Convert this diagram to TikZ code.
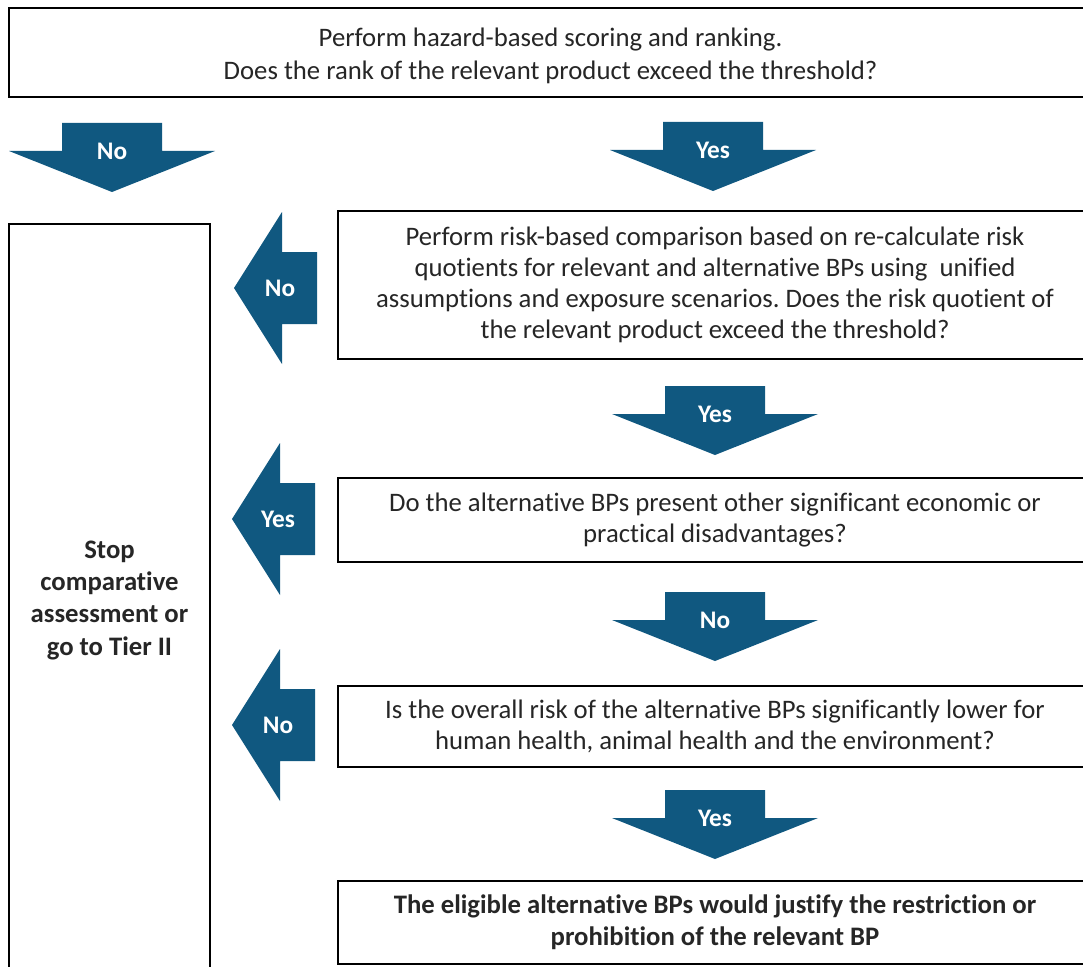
\documentclass[tikz,border=0pt]{standalone}
\usepackage{fontspec}
\setmainfont{Carlito}[Ligatures={NoCommon,NoRequired,NoContextual}]
\usetikzlibrary{positioning}
\definecolor{arrowblue}{RGB}{16,88,128}
\definecolor{textgray}{RGB}{38,38,38}
\frenchspacing

\begin{document}
\begin{tikzpicture}[
    x=0.25mm, y=-0.25mm,
    box/.style={rectangle, draw=black, line width=2pt, fill=white, text=textgray, align=center, inner sep=0pt, font=\fontsize{19}{22}\selectfont},
    stopbox/.style={box, font=\bfseries\fontsize{19}{23}\selectfont},
    lbl/.style={text=white, inner sep=0pt, font=\bfseries\fontsize{18}{20}\selectfont},
    pics/downarr/.style={code={
        \fill[arrowblue] (-50,0) -- (50,0) -- (50,28) -- (103,28) -- (0,69) -- (-103,28) -- (-50,28) -- cycle;
        \node[lbl] (-lbl) at (0,28) {#1};
    }},
    pics/leftarr/.style={code={
        \fill[arrowblue] (0,0) -- (48,-76) -- (48,-36) -- (83,-36) -- (83,36) -- (48,36) -- (48,76) -- cycle;
        \node[lbl] (-lbl) at (46,0) {#1};
    }}
]
    \clip (0,0) rectangle (1083,966);

    % Question boxes
    \node[box, minimum width=270.75mm, minimum height=22.25mm, font=\fontsize{19}{24}\selectfont] (rank) at (550.5,52.5) {};
    \node[align=center, text=textgray, inner sep=0pt, font=\fontsize{19}{24}\selectfont] (ranktxt) at (550.5,56)
        {Perform hazard-based scoring and ranking.\\Does the rank of the relevant product exceed the threshold?};
    \node[box, minimum width=188.5mm, minimum height=37mm] (riskq) at (715,285)
        {Perform risk-based comparison based on re-calculate risk\\quotients for relevant and alternative BPs using \ unified\\assumptions and exposure scenarios. Does the risk quotient of\\the relevant product exceed the threshold?};
    \node[box, minimum width=188.5mm, minimum height=21mm] (disadv) at (715,520)
        {Do the alternative BPs present other significant economic or\\practical disadvantages?};
    \node[box, minimum width=188.5mm, minimum height=20.25mm] (overall) at (715,726.5)
        {Is the overall risk of the alternative BPs significantly lower for\\human health, animal health and the environment?};
    \node[stopbox, minimum width=188.5mm, minimum height=20.75mm] (justify) at (715,922.5)
        {The eligible alternative BPs would justify the restriction or\\prohibition of the relevant BP};
    \node[stopbox, minimum width=50.25mm, minimum height=188mm] (stop) at (109.5,600)
        {Stop\\comparative\\assessment or\\go to Tier II};

    % Block arrows
    \pic (rankNo) at (112,123) {downarr=No};
    \pic (rankYes) at (713,122) {downarr=Yes};
    \pic (riskqNo) at (234,288) {leftarr=No};
    \pic (riskqYes) at (715,386) {downarr=Yes};
    \pic (disadvYes) at (232,519) {leftarr=Yes};
    \pic (disadvNo) at (715,592) {downarr=No};
    \pic (overallNo) at (232,725) {leftarr=No};
    \pic (overallYes) at (715,790) {downarr=Yes};
\end{tikzpicture}
\end{document}
